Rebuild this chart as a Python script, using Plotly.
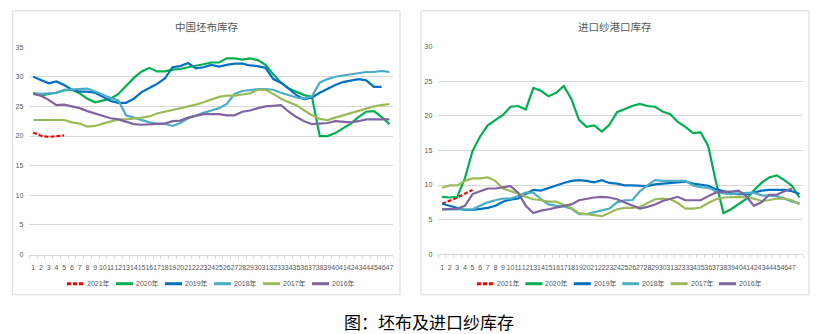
import plotly.graph_objects as go

W, H = 818, 334

# ---------------- data ----------------
years = ["2021年", "2020年", "2019年", "2018年", "2017年", "2016年"]
colors = ["#FF0000", "#00B050", "#0070C0", "#4BACC6", "#9BBB59", "#8064A2"]

weeks_left = list(range(1, 48))          # 1..47
weeks_right = list(range(1, 49))         # 1..48 (last label blank)
tick_labels_left = [str(i) for i in range(1, 48)]
tick_labels_right = [str(i) for i in range(1, 48)] + [""]

cloth_2021 = [20.6, 20.05, 19.85, 19.95, 20.1]
cloth_2020 = [27.3, 26.8, 27.1, 27.3, 27.7, 27.8, 27.2, 26.3, 25.7, 26.0, 26.3, 27.1,
              28.4, 29.8, 30.9, 31.5, 30.9, 30.9, 31.2, 31.3, 31.6, 31.8, 32.1, 32.4,
              32.4, 33.1, 33.1, 32.9, 33.1, 32.8, 32.0, 30.4, 29.0, 28.0, 27.5, 26.9,
              26.6, 20.0, 20.0, 20.5, 21.3, 22.1, 23.2, 24.1, 24.2, 23.2, 22.0]
cloth_2019 = [30.0, 29.4, 28.9, 29.2, 28.6, 27.8, 27.5, 27.5, 27.3, 26.6, 25.9, 25.6,
              25.6, 26.3, 27.4, 28.1, 28.8, 29.7, 31.6, 31.8, 32.3, 31.4, 31.6, 32.0,
              31.7, 32.0, 32.2, 32.2, 31.9, 31.8, 31.5, 29.6, 29.0, 28.0, 26.9, 26.2,
              26.5, 27.3, 28.0, 28.6, 29.1, 29.4, 29.6, 29.4, 28.3, 28.3]
cloth_2018 = [27.2, 27.1, 27.2, 27.3, 27.8, 27.9, 27.9, 28.0, 27.5, 26.9, 26.4, 26.0,
              23.5, 23.1, 22.7, 22.3, 22.1, 22.1, 21.7, 22.2, 23.0, 23.5, 23.9, 24.3,
              24.7, 25.4, 27.1, 27.6, 27.8, 27.9, 27.9, 27.8, 27.3, 26.9, 26.5, 26.3,
              26.7, 29.0, 29.6, 30.0, 30.2, 30.4, 30.6, 30.8, 30.8, 31.0, 30.8]
cloth_2017 = [22.7, 22.7, 22.8, 22.8, 22.7, 22.3, 22.1, 21.6, 21.7, 22.1, 22.5, 22.8,
              22.8, 22.9, 23.1, 23.3, 23.8, 24.1, 24.4, 24.6, 24.9, 25.3, 25.7, 26.1,
              26.6, 26.8, 26.8, 27.0, 27.2, 27.8, 27.8, 27.1, 26.3, 25.7, 25.2, 24.3,
              23.5, 22.9, 22.7, 23.1, 23.5, 23.9, 24.3, 24.7, 25.0, 25.2, 25.4]
cloth_2016 = [27.1, 26.8, 26.1, 25.2, 25.3, 25.0, 24.7, 24.2, 23.8, 23.5, 23.0, 22.8,
              22.4, 22.0, 21.9, 22.0, 22.0, 22.1, 22.5, 22.6, 23.1, 23.4, 23.7, 23.7,
              23.7, 23.5, 23.5, 24.1, 24.3, 24.7, 25.0, 25.1, 25.2, 24.1, 23.2, 22.5,
              22.0, 22.1, 22.2, 22.5, 22.4, 22.3, 22.5, 22.8, 22.8, 22.8, 22.8]

yarn_2021 = [7.3, 7.7, 8.2, 8.75, 9.3]
yarn_2020 = [8.3, 8.2, 8.3, 11.0, 14.9, 17.0, 18.6, 19.4, 20.1, 21.3, 21.4, 20.9,
             24.0, 23.6, 22.8, 23.3, 24.3, 22.4, 19.4, 18.4, 18.6, 17.7, 18.7, 20.5,
             21.0, 21.4, 21.7, 21.4, 21.3, 20.6, 20.2, 19.1, 18.4, 17.5, 17.6, 15.6,
             10.5, 5.95, 6.5, 7.2, 8.0, 9.2, 10.3, 11.1, 11.4, 10.7, 9.9, 8.2]
yarn_2019 = [7.3, 7.0, 6.6, 6.4, 6.4, 6.5, 6.7, 7.0, 7.6, 7.9, 8.05, 8.7,
             9.3, 9.2, 9.6, 9.9, 10.3, 10.6, 10.7, 10.6, 10.4, 10.7, 10.3, 10.2,
             9.95, 9.95, 9.85, 9.85, 10.1, 10.2, 10.3, 10.3, 10.5, 10.2, 10.1, 9.9,
             9.4, 9.05, 8.8, 8.7, 8.7, 8.9, 9.2, 9.3, 9.3, 9.3, 9.1, 8.7]
yarn_2018 = [6.5, 6.5, 6.5, 6.4, 6.5, 7.0, 7.5, 7.8, 8.05, 8.05, 8.4, 8.9,
             8.9, 7.95, 7.2, 7.0, 6.9, 6.6, 5.8, 5.8, 6.05, 6.4, 6.6, 7.5,
             7.8, 7.8, 9.1, 9.95, 10.7, 10.6, 10.6, 10.6, 10.6, 9.95, 9.7, 9.6,
             9.1, 8.8, 8.7, 8.8, 8.9, 8.9, 8.5, 8.4, 8.4, 8.05, 7.6, 7.4]
yarn_2017 = [9.6, 9.95, 9.95, 10.6, 10.95, 10.95, 11.1, 10.6, 9.5, 9.2, 8.8, 8.3,
             7.95, 7.8, 7.6, 7.6, 7.2, 6.7, 5.95, 5.8, 5.7, 5.5, 5.95, 6.5,
             6.7, 6.7, 6.85, 7.4, 7.95, 8.05, 7.95, 7.4, 6.6, 6.6, 6.75, 7.4,
             7.95, 8.2, 8.3, 8.3, 8.2, 8.05, 7.7, 7.8, 8.05, 8.05, 7.8, 7.2]
yarn_2016 = [6.5, 6.5, 6.6, 7.0, 8.7, 9.1, 9.5, 9.5, 9.7, 9.85, 8.9, 7.0,
             5.95, 6.3, 6.5, 6.75, 7.0, 7.2, 7.8, 8.05, 8.2, 8.3, 8.2, 7.95,
             7.5, 7.0, 6.6, 6.85, 7.2, 7.7, 8.05, 8.3, 7.8, 7.8, 7.8, 8.4,
             8.9, 9.05, 9.05, 9.2, 8.4, 7.0, 7.5, 8.6, 8.6, 9.1, 9.5]

cloth_series = [cloth_2021, cloth_2020, cloth_2019, cloth_2018, cloth_2017, cloth_2016]
yarn_series = [yarn_2021, yarn_2020, yarn_2019, yarn_2018, yarn_2017, yarn_2016]

# ---------------- helpers ----------------
def px(x):
    return x / W

def py(y):
    return 1 - y / H

GRID = "#d9d9d9"
TXT = "#595959"
TICKFONT = dict(family="Liberation Sans", size=7, color=TXT)
CJK = "Noto Sans CJK SC"

fig = go.Figure()

for name, col, ser in zip(years, colors, cloth_series):
    fig.add_trace(go.Scatter(
        x=weeks_left[:len(ser)], y=ser, mode="lines", name=name,
        line=dict(color=col, width=2.2, dash="4px,2px" if name == "2021年" else "solid"),
        xaxis="x", yaxis="y", showlegend=False))

for name, col, ser in zip(years, colors, yarn_series):
    fig.add_trace(go.Scatter(
        x=weeks_right[:len(ser)], y=ser, mode="lines", name=name,
        line=dict(color=col, width=2.2, dash="4px,2px" if name == "2021年" else "solid"),
        xaxis="x2", yaxis="y2", showlegend=False))

def xaxis_cfg(domain, anchor, n, labels):
    return dict(
        domain=domain, anchor=anchor, range=[0.5, n + 0.5],
        tickmode="array", tickvals=list(range(1, n + 1)), ticktext=labels,
        tickangle=0, tickfont=TICKFONT, ticks="", ticklabelstandoff=6,
        showgrid=False, zeroline=False, showline=True, linecolor=GRID, linewidth=1,
        minor=dict(ticks="outside", ticklen=3, tickcolor=GRID, tickwidth=1,
                   tick0=0.5, dtick=1, showgrid=False),
        fixedrange=True)

def yaxis_cfg(domain, anchor, top):
    return dict(
        domain=domain, anchor=anchor, range=[0, top], tick0=0, dtick=5,
        tickfont=TICKFONT, ticks="", ticklabelstandoff=5,
        showgrid=True, gridcolor=GRID, gridwidth=1, zeroline=False, showline=False,
        fixedrange=True)

fig.update_layout(
    width=W, height=H, margin=dict(l=0, r=0, t=0, b=0),
    paper_bgcolor="white", plot_bgcolor="white",
    xaxis=xaxis_cfg([px(29.3), px(393.3)], "y", 47, tick_labels_left),
    yaxis=yaxis_cfg([py(256), py(44)], "x", 35),
    xaxis2=xaxis_cfg([px(438.3), px(803.3)], "y2", 48, tick_labels_right),
    yaxis2=yaxis_cfg([py(255.7), py(43.3)], "x2", 30),
)

shapes = []
annotations = []

# panel borders
for x0, x1 in [(12.7, 400), (421, 809)]:
    shapes.append(dict(type="rect", xref="paper", yref="paper",
                       x0=px(x0), x1=px(x1), y0=py(297), y1=py(7),
                       line=dict(color=GRID, width=1), layer="below"))

# chart titles
annotations.append(dict(text="中国坯布库存", x=px(207), y=py(23), xref="paper", yref="paper",
                        showarrow=False, xanchor="center", yanchor="middle",
                        font=dict(family=CJK, size=10.5, color=TXT)))
annotations.append(dict(text="进口纱港口库存", x=px(615), y=py(23), xref="paper", yref="paper",
                        showarrow=False, xanchor="center", yanchor="middle",
                        font=dict(family=CJK, size=10.5, color=TXT)))

# legends (manual, compact like the original)
LEG_Y = 285.7
for start, step in [(67, 49), (477, 48.4)]:
    for k, (name, col) in enumerate(zip(years, colors)):
        x0 = start + k * step
        shapes.append(dict(type="line", xref="paper", yref="paper",
                           x0=px(x0), x1=px(x0 + 17), y0=py(LEG_Y), y1=py(LEG_Y),
                           line=dict(color=col, width=3,
                                     dash="4px,2px" if name == "2021年" else "solid")))
        annotations.append(dict(text=name, x=px(x0 + 18), y=py(LEG_Y),
                                xref="paper", yref="paper", showarrow=False,
                                xanchor="left", yanchor="middle",
                                font=dict(family="Liberation Sans, " + CJK, size=7, color=TXT)))

# caption
annotations.append(dict(text="图：坯布及进口纱库存", x=px(428.5), y=py(324),
                        xref="paper", yref="paper", showarrow=False,
                        xanchor="center", yanchor="middle",
                        font=dict(family=CJK, size=17, color="#000000")))

fig.update_layout(shapes=shapes, annotations=annotations)

fig.write_html("out.html")
